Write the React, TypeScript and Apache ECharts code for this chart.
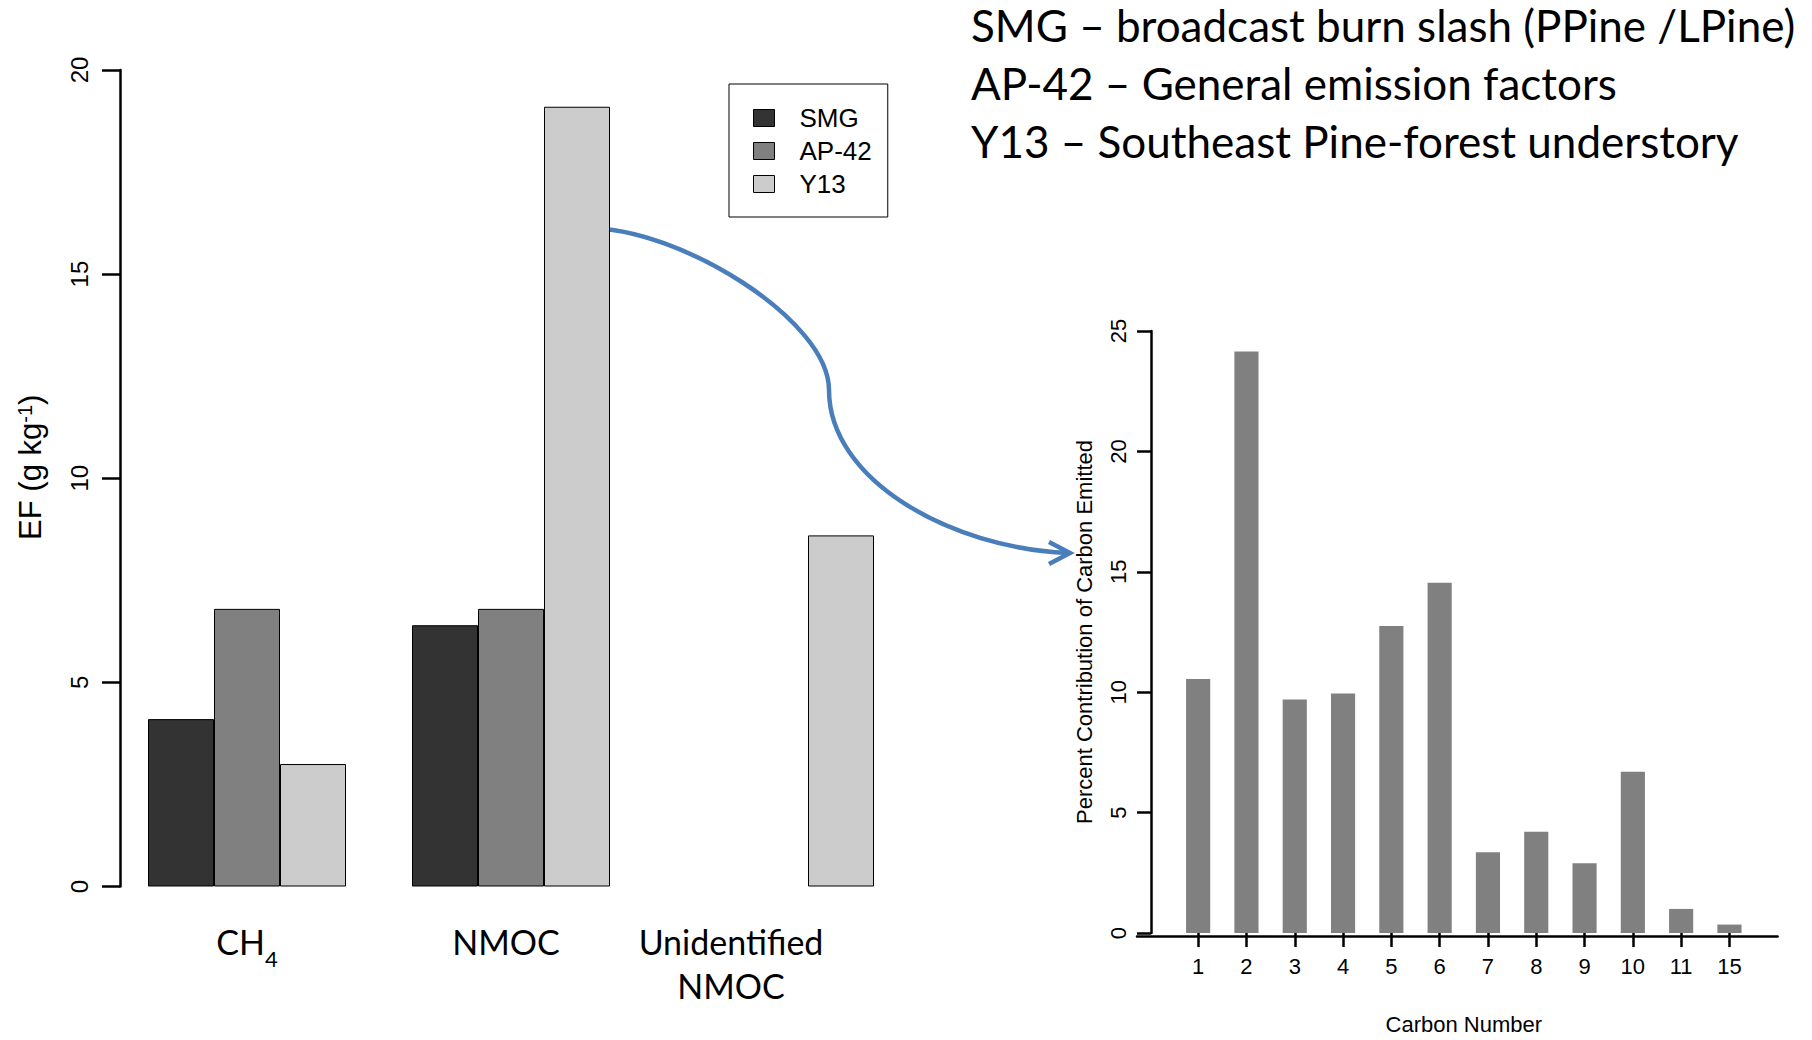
import React, { useEffect, useRef } from "react";
import * as echarts from "echarts";

// ---- Data ----
const groupCategories = ["CH4", "NMOC", "Unidentified\nNMOC"];
const seriesNames = ["SMG", "AP-42", "Y13"];
const smgValues = [4.1, 6.4, null];
const ap42Values = [6.8, 6.8, null];
const y13Values = [3.0, 19.1, 8.6];
const seriesColors = ["#333333", "#808080", "#cccccc"];

const carbonNumbers = ["1", "2", "3", "4", "5", "6", "7", "8", "9", "10", "11", "15"];
const carbonPercent = [10.55, 24.15, 9.7, 9.95, 12.75, 14.55, 3.35, 4.2, 2.9, 6.7, 1.0, 0.35];

const noteLines = [
  "SMG \u2013 broadcast burn slash (PPine /LPine)",
  "AP-42 \u2013 General emission factors",
  "Y13 \u2013 Southeast Pine-forest understory",
];

const R_FONT = "'Liberation Sans', Arial, sans-serif";
const PPT_FONT = "Lato, 'Open Sans', sans-serif";
const ARROW_BLUE = "#4a7ebb";
// horizontal label shifts (px padding on the right of each category label)
const labelShiftPad = [0, 10, 88];

export default function App() {
  const ref = useRef<HTMLDivElement>(null);

  useEffect(() => {
    if (!ref.current) return;
    const chart = echarts.init(ref.current, null, { renderer: "svg" });
    const axisLineStyle = { color: "#000", width: 2.5 };
    const groupValues = [smgValues, ap42Values, y13Values];

    const option: any = {
      animation: false,
      backgroundColor: "#fff",
      title: {
        text: noteLines.join("\n"),
        left: 971,
        top: -4,
        padding: 0,
        textStyle: {
          fontFamily: PPT_FONT,
          fontSize: 44,
          fontWeight: "normal",
          lineHeight: 58,
          color: "#000",
        },
      },
      legend: {
        data: seriesNames,
        orient: "vertical",
        left: 729,
        top: 84,
        padding: [21, 16, 20, 24],
        itemWidth: 21,
        itemHeight: 17,
        itemGap: 7,
        icon: "rect",
        selectedMode: false,
        borderColor: "#000",
        borderWidth: 1,
        itemStyle: { borderColor: "#000", borderWidth: 1 },
        textStyle: {
          fontFamily: R_FONT,
          fontSize: 26,
          color: "#000",
          padding: [0, 0, 0, 20],
        },
      },
      grid: [
        { left: 115, top: 70, width: 792, height: 816.5 },
        { left: 1174, top: 331, width: 579.6, height: 605.7 },
        { left: 1137, top: 331, width: 640.6, height: 605.7 },
      ],
      xAxis: [
        {
          gridIndex: 0,
          type: "category",
          data: groupCategories.map((c, i) => ({
            value: c,
            textStyle: { padding: [0, labelShiftPad[i], 0, 0] },
          })),
          axisLine: { show: false },
          axisTick: { show: false },
          axisLabel: {
            fontFamily: PPT_FONT,
            fontSize: 34,
            lineHeight: 44,
            color: "#000",
            margin: 33,
            formatter: (v: string) => v.replace(/^CH4$/, "CH{sub|4}"),
            rich: {
              sub: {
                fontFamily: PPT_FONT,
                fontSize: 22,
                color: "#000",
                verticalAlign: "bottom",
                padding: [0, 0, -6, 0],
              },
            },
          },
        },
        {
          gridIndex: 1,
          type: "category",
          data: carbonNumbers,
          axisLine: { show: false },
          axisTick: { show: true, alignWithLabel: true, length: 14, lineStyle: axisLineStyle },
          axisLabel: { fontFamily: R_FONT, fontSize: 22, color: "#000", margin: 22 },
          name: "Carbon Number",
          nameLocation: "middle",
          nameGap: 80,
          nameTextStyle: { fontFamily: R_FONT, fontSize: 22, color: "#000" },
        },
        {
          gridIndex: 2,
          type: "value",
          min: 0,
          max: 1,
          axisLine: { show: true, lineStyle: axisLineStyle },
          axisTick: { show: false },
          axisLabel: { show: false },
          splitLine: { show: false },
        },
      ],
      yAxis: [
        {
          gridIndex: 0,
          type: "value",
          min: 0,
          max: 20,
          interval: 5,
          offset: -5,
          axisLine: { show: true, lineStyle: axisLineStyle },
          axisTick: { show: true, length: 18, lineStyle: axisLineStyle },
          axisLabel: { rotate: 90, fontFamily: R_FONT, fontSize: 24, color: "#000", margin: 29 },
          splitLine: { show: false },
          name: "EF (g kg{sup|-1})",
          nameLocation: "middle",
          nameGap: 74,
          nameTextStyle: {
            fontFamily: R_FONT,
            fontSize: 31,
            color: "#000",
            padding: [0, 0, 0, 22],
            rich: {
              sup: { fontFamily: R_FONT, fontSize: 20, color: "#000", verticalAlign: "top" },
            },
          },
        },
        {
          gridIndex: 1,
          type: "value",
          min: 0,
          max: 25,
          interval: 5,
          offset: 23,
          axisLine: { show: true, lineStyle: axisLineStyle },
          axisTick: { show: true, length: 14, lineStyle: axisLineStyle },
          axisLabel: { rotate: 90, fontFamily: R_FONT, fontSize: 22, color: "#000", margin: 22 },
          splitLine: { show: false },
          name: "Percent Contribution of Carbon Emitted",
          nameLocation: "middle",
          nameGap: 56,
          nameTextStyle: { fontFamily: R_FONT, fontSize: 22, color: "#000" },
        },
        { gridIndex: 2, type: "value", min: 0, max: 1, show: false },
      ],
      series: [
        ...seriesNames.map((name, i) => ({
          name,
          type: "bar",
          xAxisIndex: 0,
          yAxisIndex: 0,
          data: groupValues[i],
          barGap: "0%",
          barCategoryGap: "25%",
          itemStyle: { color: seriesColors[i], borderColor: "#000", borderWidth: 1 },
        })),
        {
          name: "Carbon",
          type: "bar",
          xAxisIndex: 1,
          yAxisIndex: 1,
          data: carbonPercent,
          barWidth: "50%",
          itemStyle: { color: "#808080" },
        },
      ],
      graphic: [
        {
          type: "bezierCurve",
          shape: { x1: 588, y1: 228, cpx1: 680, cpy1: 228, cpx2: 829, cpy2: 320, x2: 829, y2: 390 },
          style: { stroke: ARROW_BLUE, lineWidth: 4.5, fill: null },
        },
        {
          type: "bezierCurve",
          shape: { x1: 829, y1: 390, cpx1: 829, cpy1: 480, cpx2: 950, cpy2: 548, x2: 1068, y2: 553 },
          style: { stroke: ARROW_BLUE, lineWidth: 4.5, fill: null },
        },
        {
          type: "polyline",
          shape: { points: [[1049, 542], [1070, 553], [1049, 564]] },
          style: { stroke: ARROW_BLUE, lineWidth: 4.5, fill: null },
        },
      ],
    };

    chart.setOption(option);
    return () => chart.dispose();
  }, []);

  return (
    <div
      ref={ref}
      style={{ position: "fixed", left: 0, top: 0, width: 1812, height: 1040, background: "#fff" }}
    />
  );
}
